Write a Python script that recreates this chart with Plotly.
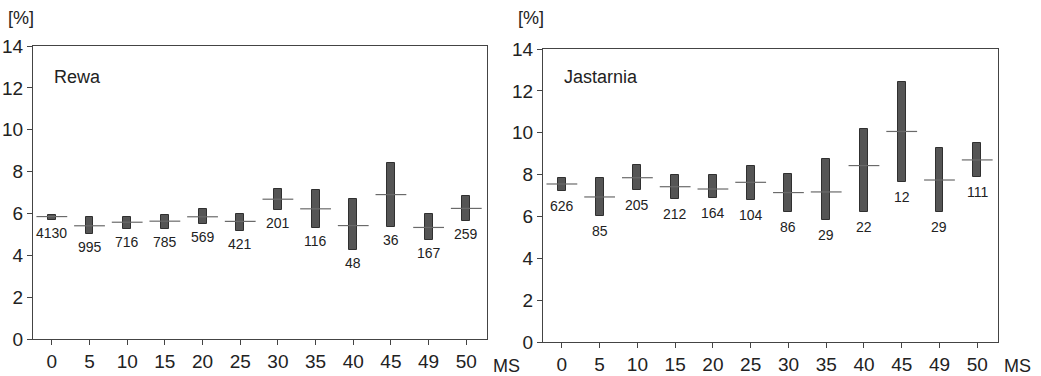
import plotly.graph_objects as go

categories = ["0", "5", "10", "15", "20", "25", "30", "35", "40", "45", "49", "50"]

# Rewa
rewa_top = [5.93, 5.82, 5.85, 5.92, 6.20, 5.98, 7.19, 7.11, 6.68, 8.43, 5.97, 6.81]
rewa_bottom = [5.70, 5.01, 5.25, 5.25, 5.49, 5.15, 6.16, 5.31, 4.23, 5.33, 4.74, 5.63]
rewa_mean = [5.85, 5.41, 5.58, 5.63, 5.84, 5.62, 6.68, 6.22, 5.42, 6.90, 5.33, 6.24]
rewa_n = ["4130", "995", "716", "785", "569", "421", "201", "116", "48", "36", "167", "259"]

# Jastarnia
jast_top = [7.82, 7.82, 8.45, 7.98, 7.98, 8.43, 8.01, 8.76, 10.17, 12.44, 9.28, 9.51]
jast_bottom = [7.23, 6.02, 7.26, 6.83, 6.90, 6.78, 6.23, 5.81, 6.21, 7.63, 6.19, 7.90]
jast_mean = [7.55, 6.93, 7.85, 7.42, 7.31, 7.63, 7.14, 7.17, 8.43, 10.06, 7.74, 8.70]
jast_n = ["626", "85", "205", "212", "164", "104", "86", "29", "22", "12", "29", "111"]

yticks = [0, 2, 4, 6, 8, 10, 12, 14]

FONT = "Liberation Sans, Arial, sans-serif"
TXT = "#222222"
BAR = "#555555"
EDGE = "#303030"
MEAN = "#6a6a6a"
AX = "#444444"

W, H = 1041, 376

fig = go.Figure()

panels = [
    dict(top=rewa_top, bottom=rewa_bottom, mean=rewa_mean, n=rewa_n, name="Rewa",
         xa="x", ya="y", px=(33, 487), py=(46, 339), shift=-13),
    dict(top=jast_top, bottom=jast_bottom, mean=jast_mean, n=jast_n, name="Jastarnia",
         xa="x2", ya="y2", px=(543, 998), py=(49, 342), shift=-15),
]

annotations = []
for p in panels:
    heights = [t - b for t, b in zip(p["top"], p["bottom"])]
    fig.add_trace(go.Bar(
        x=categories, y=heights, base=p["bottom"], width=0.21,
        marker=dict(color=BAR, line=dict(color=EDGE, width=1)),
        xaxis=p["xa"], yaxis=p["ya"], showlegend=False, hoverinfo="skip",
    ))
    fig.add_trace(go.Scatter(
        x=categories, y=p["mean"], mode="markers",
        marker=dict(symbol="line-ew", size=22, line=dict(color=MEAN, width=1.2)),
        xaxis=p["xa"], yaxis=p["ya"], showlegend=False, hoverinfo="skip",
    ))
    for i, (b, lab) in enumerate(zip(p["bottom"], p["n"])):
        annotations.append(dict(
            x=i, y=b, xref=p["xa"], yref=p["ya"], text=lab, showarrow=False,
            yanchor="middle", yshift=p["shift"], font=dict(size=14, color=TXT, family=FONT),
        ))
    x0, x1 = p["px"]
    y0, y1 = p["py"]
    annotations.append(dict(
        x=(x0 + 19) / W, y=1 - 77 / H, xref="paper", yref="paper", text=p["name"],
        showarrow=False, xanchor="left", yanchor="middle",
        font=dict(size=18, color=TXT, family=FONT),
    ))
    annotations.append(dict(
        x=max(x0 - 27, 4) / W, y=1 - 18 / H, xref="paper", yref="paper", text="[%]",
        showarrow=False, xanchor="left", yanchor="middle",
        font=dict(size=18, color=TXT, family=FONT),
    ))
    annotations.append(dict(
        x=(x1 + 4) / W, y=1 - 366 / H, xref="paper", yref="paper", text="MS",
        showarrow=False, xanchor="left", yanchor="middle",
        font=dict(size=18, color=TXT, family=FONT),
    ))

def xaxis(p):
    return dict(
        domain=[p["px"][0] / W, p["px"][1] / W], anchor=p["ya"],
        type="category", categoryorder="array", categoryarray=categories,
        range=[-0.5, 11.55], showgrid=False, zeroline=False, automargin=False,
        showline=True, linecolor=AX, linewidth=1, mirror=True,
        ticks="outside", ticklen=5, tickcolor=AX,
        tickfont=dict(size=19, color=TXT, family=FONT), fixedrange=True,
    )

def yaxis(p):
    return dict(
        domain=[1 - p["py"][1] / H, 1 - p["py"][0] / H], anchor=p["xa"],
        range=[0, 14], tickvals=yticks, showgrid=False, zeroline=False, automargin=False,
        showline=True, linecolor=AX, linewidth=1, mirror=True,
        ticks="outside", ticklen=5, tickcolor=AX,
        tickfont=dict(size=19, color=TXT, family=FONT), fixedrange=True,
    )

fig.update_layout(
    width=W, height=H, margin=dict(l=0, r=0, t=0, b=0, autoexpand=False),
    paper_bgcolor="white", plot_bgcolor="white",
    xaxis=xaxis(panels[0]), yaxis=yaxis(panels[0]),
    xaxis2=xaxis(panels[1]), yaxis2=yaxis(panels[1]),
    annotations=annotations, bargap=0,
)

fig.write_html(
    "out.html",
    config={"displayModeBar": False},
    post_script="document.body.style.margin='0px';document.body.style.overflow='hidden';",
)
